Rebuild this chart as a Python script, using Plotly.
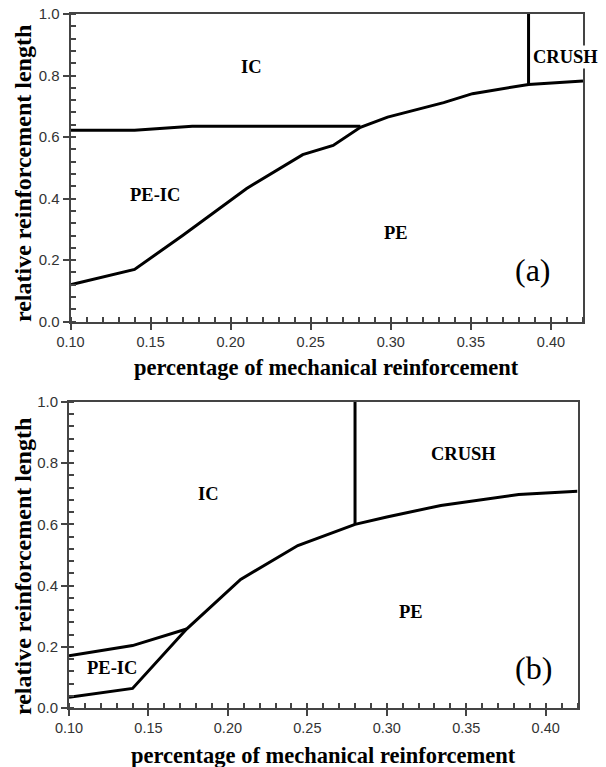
import plotly.graph_objects as go

# ---- data -------------------------------------------------------------
# Panel (a): failure-mode boundaries
a_pe_x = [0.10, 0.14, 0.17, 0.21, 0.245, 0.264, 0.281, 0.298, 0.333, 0.351, 0.386, 0.42]
a_pe_y = [0.12, 0.17, 0.28, 0.433, 0.543, 0.573, 0.632, 0.665, 0.712, 0.741, 0.771, 0.782]
a_ic_x = [0.10, 0.14, 0.176, 0.281]
a_ic_y = [0.622, 0.622, 0.635, 0.635]
a_crush_x = [0.386, 0.386]
a_crush_y = [0.771, 1.0]

# Panel (b): failure-mode boundaries
b_pe_x = [0.10, 0.14, 0.174, 0.208, 0.244, 0.28, 0.30, 0.334, 0.383, 0.42]
b_pe_y = [0.035, 0.064, 0.258, 0.42, 0.531, 0.60, 0.624, 0.662, 0.698, 0.708]
b_peic_x = [0.10, 0.14, 0.174]
b_peic_y = [0.171, 0.204, 0.258]
b_crush_x = [0.28, 0.28]
b_crush_y = [0.60, 1.0]

# Region labels: (text, x, y)
a_regions = [("IC", 0.213, 0.828), ("CRUSH", 0.409, 0.859), ("PE-IC", 0.153, 0.411),
             ("PE", 0.303, 0.289)]
b_regions = [("IC", 0.188, 0.700), ("CRUSH", 0.348, 0.831), ("PE-IC", 0.127, 0.130),
             ("PE", 0.315, 0.313)]
panel_tags = [("(a)", 0.389, 0.168), ("(b)", 0.392, 0.130)]

x_ticks = [0.10, 0.15, 0.20, 0.25, 0.30, 0.35, 0.40]
x_tick_text = ["0.10", "0.15", "0.20", "0.25", "0.30", "0.35", "0.40"]
y_ticks = [0.0, 0.2, 0.4, 0.6, 0.8, 1.0]
y_tick_text = ["0.0", "0.2", "0.4", "0.6", "0.8", "1.0"]

x_title = "percentage of mechanical reinforcement"
y_title = "relative reinforcement length"

X_RANGE = [0.10, 0.42]
Y_RANGE = [0.0, 1.0]

W, H = 606, 767
SERIF = "Liberation Serif, Times New Roman, serif"
SANS = "Liberation Sans, Arial, sans-serif"
FRAME = "#444444"


def px(x):
    return x / W


def py(y):
    return 1 - y / H


fig = go.Figure()

line_style = dict(color="black", width=3)
for xs, ys in [(a_pe_x, a_pe_y), (a_ic_x, a_ic_y), (a_crush_x, a_crush_y)]:
    fig.add_trace(go.Scatter(x=xs, y=ys, mode="lines", line=line_style,
                             xaxis="x", yaxis="y", showlegend=False, hoverinfo="skip"))
for xs, ys in [(b_pe_x, b_pe_y), (b_peic_x, b_peic_y), (b_crush_x, b_crush_y)]:
    fig.add_trace(go.Scatter(x=xs, y=ys, mode="lines", line=line_style,
                             xaxis="x2", yaxis="y2", showlegend=False, hoverinfo="skip"))

# invisible traces so the overlay axes (inner half of the crossing ticks) are drawn
fig.add_trace(go.Scatter(x=[None], y=[None], xaxis="x3", yaxis="y3",
                         showlegend=False, hoverinfo="skip"))
fig.add_trace(go.Scatter(x=[None], y=[None], xaxis="x4", yaxis="y4",
                         showlegend=False, hoverinfo="skip"))

dom_a_x = [px(70.5), px(583)]
dom_a_y = [py(321.7), py(14)]
dom_b_x = [px(69), px(577.5)]
dom_b_y = [py(708), py(402)]


def main_x(domain, anchor):
    return dict(domain=domain, anchor=anchor, range=X_RANGE, showgrid=False, zeroline=False,
                automargin=False,
                showline=True, linecolor=FRAME, linewidth=2, mirror=True,
                tickmode="array", tickvals=x_ticks, ticktext=x_tick_text,
                ticks="outside", ticklen=6, tickwidth=1.5, tickcolor=FRAME,
                tickfont=dict(family=SANS, size=14.5, color="#333333"),
                minor=dict(dtick=0.01, tick0=0.10, ticks="inside", ticklen=5,
                           tickwidth=1.5, tickcolor=FRAME, showgrid=False))


def main_y(domain, anchor):
    return dict(domain=domain, anchor=anchor, range=Y_RANGE, showgrid=False, zeroline=False,
                automargin=False,
                showline=True, linecolor=FRAME, linewidth=2, mirror=True,
                tickmode="array", tickvals=y_ticks, ticktext=y_tick_text,
                ticks="outside", ticklen=6, tickwidth=1.5, tickcolor=FRAME,
                tickfont=dict(family=SANS, size=15, color="#333333"),
                minor=dict(dtick=0.04, tick0=0.0, ticks="inside", ticklen=5,
                           tickwidth=1.5, tickcolor=FRAME, showgrid=False))


def overlay_x(domain, over, anchor):
    return dict(domain=domain, overlaying=over, anchor=anchor, side="bottom", range=X_RANGE,
                automargin=False,
                showgrid=False, zeroline=False, showline=False, showticklabels=False,
                tickmode="array", tickvals=x_ticks, ticks="inside", ticklen=4,
                tickwidth=1.5, tickcolor=FRAME)


def overlay_y(domain, over, anchor):
    return dict(domain=domain, overlaying=over, anchor=anchor, side="left", range=Y_RANGE,
                automargin=False,
                showgrid=False, zeroline=False, showline=False, showticklabels=False,
                tickmode="array", tickvals=y_ticks, ticks="inside", ticklen=4,
                tickwidth=1.5, tickcolor=FRAME)


annotations = []
label_font = dict(family=SERIF, size=18.5, color="black")
for text, x, y in a_regions:
    annotations.append(dict(x=x, y=y, xref="x", yref="y", text=f"<b>{text}</b>",
                            showarrow=False, font=label_font,
                            bgcolor="white" if text == "CRUSH" else None))
for text, x, y in b_regions:
    annotations.append(dict(x=x, y=y, xref="x2", yref="y2", text=f"<b>{text}</b>",
                            showarrow=False, font=label_font))
for (text, x, y), (xr, yr) in zip(panel_tags, [("x", "y"), ("x2", "y2")]):
    annotations.append(dict(x=x, y=y, xref=xr, yref=yr, text=text, showarrow=False,
                            font=dict(family=SERIF, size=32, color="black")))

title_font_x = dict(family=SERIF, size=22.5, color="black")
title_font_y = dict(family=SERIF, size=24, color="black")
for cx, cy in [(326.7, 367), (323, 755)]:
    annotations.append(dict(x=px(cx), y=py(cy), xref="paper", yref="paper",
                            text=f"<b>{x_title}</b>", showarrow=False, font=title_font_x,
                            xanchor="center", yanchor="middle"))
for cx, cy in [(23, 174), (23, 567)]:
    annotations.append(dict(x=px(cx), y=py(cy), xref="paper", yref="paper",
                            text=f"<b>{y_title}</b>", showarrow=False, font=title_font_y,
                            textangle=-90, xanchor="center", yanchor="middle"))

fig.update_layout(
    template="none",
    width=W, height=H,
    margin=dict(l=0, r=0, t=0, b=0, pad=0),
    paper_bgcolor="white", plot_bgcolor="white",
    xaxis=main_x(dom_a_x, "y"),
    yaxis=main_y(dom_a_y, "x"),
    xaxis2=main_x(dom_b_x, "y2"),
    yaxis2=main_y(dom_b_y, "x2"),
    xaxis3=overlay_x(dom_a_x, "x", "y"),
    yaxis3=overlay_y(dom_a_y, "y", "x"),
    xaxis4=overlay_x(dom_b_x, "x2", "y2"),
    yaxis4=overlay_y(dom_b_y, "y2", "x2"),
    annotations=annotations,
    showlegend=False,
)

fig.write_html("out.html")
